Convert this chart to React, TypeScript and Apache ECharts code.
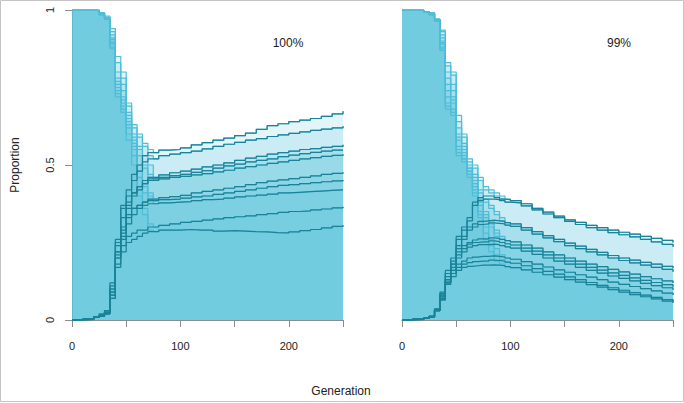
import React, { useEffect, useRef } from 'react';
import * as echarts from 'echarts';

// ---------- Panel 1 (100%) ----------
const GEN_EARLY_1 = [0, 10, 20, 25, 30, 35, 40, 45, 50, 55, 60, 65, 70];
const GEN_TAIL_1 = [75, 80, 90, 100, 110, 120, 130, 140, 150, 160, 170, 180, 190, 200, 210, 220, 230, 240, 250];

const DECLINE_1 = [
  [1, 1, 1, 0.99, 0.98, 0.94, 0.85, 0.8, 0.7, 0.63, 0.6, 0.57, 0.55],
  [1, 1, 1, 0.99, 0.975, 0.93, 0.83, 0.78, 0.69, 0.62, 0.59, 0.56, 0.53],
  [1, 1, 0.998, 0.985, 0.97, 0.92, 0.8, 0.76, 0.67, 0.6, 0.56, 0.53, 0.5],
  [1, 1, 1, 0.99, 0.975, 0.91, 0.78, 0.74, 0.66, 0.59, 0.55, 0.5, 0.47],
  [1, 1, 0.998, 0.985, 0.97, 0.905, 0.77, 0.72, 0.65, 0.58, 0.53, 0.49, 0.46],
  [1, 1, 1, 0.99, 0.97, 0.9, 0.76, 0.71, 0.64, 0.57, 0.5, 0.45, 0.41],
  [1, 1, 0.998, 0.985, 0.975, 0.895, 0.75, 0.7, 0.63, 0.56, 0.48, 0.43, 0.4],
  [1, 1, 1, 0.99, 0.97, 0.89, 0.74, 0.69, 0.62, 0.55, 0.46, 0.41, 0.39],
  [1, 1, 0.998, 0.985, 0.97, 0.88, 0.73, 0.68, 0.6, 0.53, 0.42, 0.36, 0.31],
  [1, 1, 1, 0.99, 0.975, 0.875, 0.72, 0.67, 0.58, 0.5, 0.4, 0.34, 0.29],
];

const RISE_1 = [
  [0, 0.003, 0.01, 0.015, 0.03, 0.12, 0.26, 0.37, 0.42, 0.47, 0.5, 0.53, 0.54],
  [0, 0.002, 0.008, 0.015, 0.025, 0.11, 0.24, 0.33, 0.4, 0.45, 0.48, 0.51, 0.52],
  [0, 0.003, 0.01, 0.02, 0.03, 0.1, 0.22, 0.3, 0.37, 0.41, 0.43, 0.45, 0.46],
  [0, 0.002, 0.008, 0.015, 0.025, 0.09, 0.21, 0.28, 0.36, 0.4, 0.42, 0.44, 0.455],
  [0, 0.003, 0.01, 0.015, 0.025, 0.1, 0.25, 0.36, 0.38, 0.41, 0.43, 0.44, 0.45],
  [0, 0.002, 0.008, 0.012, 0.02, 0.08, 0.2, 0.27, 0.33, 0.36, 0.37, 0.38, 0.39],
  [0, 0.003, 0.01, 0.015, 0.025, 0.09, 0.22, 0.29, 0.34, 0.36, 0.37, 0.38, 0.385],
  [0, 0.002, 0.008, 0.015, 0.02, 0.08, 0.2, 0.26, 0.31, 0.34, 0.36, 0.37, 0.375],
  [0, 0.003, 0.01, 0.015, 0.025, 0.07, 0.18, 0.24, 0.27, 0.28, 0.29, 0.29, 0.3],
  [0, 0.002, 0.008, 0.012, 0.02, 0.07, 0.17, 0.22, 0.25, 0.26, 0.27, 0.28, 0.285],
];

const TAIL_1 = [
  [0.54, 0.548, 0.55, 0.555, 0.565, 0.572, 0.58, 0.587, 0.595, 0.603, 0.615, 0.627, 0.633, 0.64, 0.645, 0.65, 0.657, 0.665, 0.673],
  [0.52, 0.53, 0.535, 0.54, 0.545, 0.552, 0.56, 0.567, 0.573, 0.58, 0.585, 0.592, 0.597, 0.602, 0.607, 0.612, 0.616, 0.62, 0.625],
  [0.46, 0.468, 0.475, 0.48, 0.487, 0.494, 0.5, 0.507, 0.515, 0.522, 0.528, 0.535, 0.54, 0.545, 0.55, 0.553, 0.557, 0.56, 0.565],
  [0.455, 0.46, 0.466, 0.47, 0.476, 0.482, 0.49, 0.497, 0.503, 0.51, 0.515, 0.52, 0.527, 0.532, 0.537, 0.541, 0.545, 0.548, 0.55],
  [0.45, 0.455, 0.46, 0.463, 0.468, 0.472, 0.478, 0.483, 0.49, 0.495, 0.5, 0.505, 0.51, 0.515, 0.52, 0.524, 0.528, 0.531, 0.535],
  [0.39, 0.395, 0.398, 0.402, 0.41, 0.415, 0.42, 0.425, 0.43, 0.437, 0.443, 0.448, 0.452, 0.456, 0.46, 0.465, 0.47, 0.473, 0.477],
  [0.385, 0.388, 0.39, 0.393, 0.397, 0.4, 0.405, 0.41, 0.415, 0.42, 0.425, 0.43, 0.434, 0.437, 0.44, 0.443, 0.446, 0.449, 0.452],
  [0.375, 0.378, 0.38, 0.382, 0.385, 0.388, 0.39, 0.393, 0.397, 0.4, 0.403, 0.406, 0.41, 0.412, 0.414, 0.416, 0.418, 0.42, 0.422],
  [0.3, 0.305, 0.31, 0.315, 0.318, 0.322, 0.326, 0.33, 0.333, 0.336, 0.34, 0.343, 0.347, 0.35, 0.352, 0.355, 0.358, 0.362, 0.365],
  [0.285, 0.29, 0.29, 0.292, 0.29, 0.29, 0.287, 0.288, 0.287, 0.285, 0.284, 0.282, 0.281, 0.284, 0.288, 0.292, 0.297, 0.302, 0.306],
];

// ---------- Panel 2 (99%) ----------
const GEN_EARLY_2 = [0, 10, 20, 25, 30, 35, 40, 45, 50, 55, 60, 65, 70, 75, 80, 85, 90, 95];
const GEN_TAIL_2 = [100, 110, 120, 130, 140, 150, 160, 170, 180, 190, 200, 210, 220, 230, 240, 250];

const DECLINE_2 = [
  [1, 1, 0.995, 0.99, 0.97, 0.935, 0.83, 0.8, 0.66, 0.6, 0.52, 0.5, 0.46, 0.43, 0.42, 0.41, 0.4, 0.39],
  [1, 1, 0.995, 0.985, 0.97, 0.93, 0.82, 0.79, 0.64, 0.59, 0.51, 0.49, 0.45, 0.42, 0.41, 0.4, 0.39, 0.38],
  [1, 1, 0.995, 0.985, 0.965, 0.92, 0.8, 0.76, 0.62, 0.57, 0.5, 0.47, 0.42, 0.39, 0.37, 0.35, 0.33, 0.314],
  [1, 1, 0.995, 0.99, 0.97, 0.91, 0.78, 0.74, 0.6, 0.56, 0.49, 0.46, 0.41, 0.38, 0.36, 0.34, 0.32, 0.306],
  [1, 1, 0.995, 0.985, 0.965, 0.9, 0.76, 0.72, 0.59, 0.55, 0.49, 0.45, 0.39, 0.35, 0.32, 0.29, 0.27, 0.256],
  [1, 1, 0.995, 0.99, 0.97, 0.895, 0.74, 0.71, 0.58, 0.54, 0.48, 0.44, 0.38, 0.34, 0.31, 0.28, 0.26, 0.246],
  [1, 1, 0.995, 0.985, 0.965, 0.89, 0.72, 0.7, 0.56, 0.53, 0.48, 0.43, 0.37, 0.33, 0.3, 0.27, 0.25, 0.236],
  [1, 1, 0.995, 0.99, 0.97, 0.88, 0.7, 0.68, 0.55, 0.52, 0.47, 0.42, 0.35, 0.3, 0.26, 0.23, 0.21, 0.2],
  [1, 1, 0.995, 0.985, 0.965, 0.875, 0.69, 0.67, 0.54, 0.52, 0.47, 0.41, 0.34, 0.28, 0.24, 0.21, 0.195, 0.187],
  [1, 1, 0.995, 0.99, 0.97, 0.87, 0.68, 0.66, 0.53, 0.51, 0.46, 0.4, 0.33, 0.26, 0.22, 0.19, 0.18, 0.172],
];

const RISE_2 = [
  [0, 0.003, 0.006, 0.012, 0.035, 0.09, 0.16, 0.2, 0.27, 0.3, 0.33, 0.38, 0.395, 0.4, 0.4, 0.395, 0.39, 0.388],
  [0, 0.002, 0.005, 0.01, 0.03, 0.085, 0.15, 0.19, 0.26, 0.29, 0.32, 0.37, 0.385, 0.39, 0.39, 0.388, 0.385, 0.38],
  [0, 0.003, 0.006, 0.012, 0.035, 0.08, 0.15, 0.18, 0.24, 0.27, 0.3, 0.31, 0.318, 0.32, 0.322, 0.32, 0.318, 0.314],
  [0, 0.002, 0.005, 0.01, 0.03, 0.08, 0.14, 0.18, 0.23, 0.26, 0.29, 0.3, 0.308, 0.31, 0.313, 0.312, 0.31, 0.306],
  [0, 0.003, 0.006, 0.012, 0.035, 0.075, 0.13, 0.17, 0.22, 0.24, 0.25, 0.258, 0.262, 0.262, 0.265, 0.263, 0.26, 0.256],
  [0, 0.002, 0.005, 0.01, 0.03, 0.075, 0.13, 0.16, 0.21, 0.23, 0.245, 0.25, 0.252, 0.252, 0.255, 0.253, 0.25, 0.246],
  [0, 0.003, 0.006, 0.012, 0.033, 0.07, 0.125, 0.16, 0.2, 0.22, 0.235, 0.24, 0.243, 0.243, 0.245, 0.243, 0.24, 0.236],
  [0, 0.002, 0.005, 0.01, 0.03, 0.07, 0.12, 0.15, 0.18, 0.19, 0.2, 0.203, 0.205, 0.205, 0.207, 0.205, 0.203, 0.2],
  [0, 0.003, 0.006, 0.012, 0.033, 0.065, 0.12, 0.15, 0.17, 0.18, 0.185, 0.188, 0.19, 0.19, 0.193, 0.192, 0.19, 0.187],
  [0, 0.002, 0.005, 0.01, 0.03, 0.065, 0.115, 0.14, 0.16, 0.17, 0.173, 0.175, 0.177, 0.177, 0.178, 0.177, 0.175, 0.172],
];

const TAIL_2 = [
  [0.385, 0.375, 0.36, 0.348, 0.335, 0.323, 0.315, 0.305, 0.298, 0.29, 0.283, 0.277, 0.27, 0.263, 0.257, 0.25],
  [0.378, 0.368, 0.355, 0.342, 0.33, 0.318, 0.308, 0.298, 0.29, 0.282, 0.275, 0.268, 0.26, 0.252, 0.244, 0.236],
  [0.31, 0.298, 0.285, 0.272, 0.26, 0.248, 0.238, 0.228, 0.218, 0.208, 0.2, 0.193, 0.186, 0.18, 0.173, 0.167],
  [0.302, 0.29, 0.277, 0.265, 0.253, 0.24, 0.23, 0.22, 0.21, 0.2, 0.192, 0.184, 0.177, 0.17, 0.163, 0.156],
  [0.252, 0.242, 0.232, 0.22, 0.21, 0.2, 0.19, 0.18, 0.172, 0.163, 0.155, 0.148, 0.14, 0.133, 0.126, 0.119],
  [0.242, 0.232, 0.222, 0.21, 0.2, 0.19, 0.18, 0.17, 0.161, 0.152, 0.144, 0.136, 0.128, 0.121, 0.114, 0.107],
  [0.232, 0.222, 0.212, 0.2, 0.19, 0.18, 0.17, 0.16, 0.151, 0.142, 0.134, 0.126, 0.118, 0.111, 0.104, 0.097],
  [0.196, 0.188, 0.18, 0.171, 0.162, 0.154, 0.146, 0.138, 0.13, 0.122, 0.115, 0.108, 0.101, 0.094, 0.087, 0.081],
  [0.183, 0.175, 0.166, 0.157, 0.148, 0.139, 0.13, 0.121, 0.112, 0.104, 0.096, 0.088, 0.08, 0.073, 0.066, 0.059],
  [0.169, 0.162, 0.154, 0.146, 0.138, 0.13, 0.122, 0.114, 0.106, 0.098, 0.09, 0.082, 0.075, 0.068, 0.061, 0.055],
];

const PANEL_LABELS = ['100%', '99%'];
const X_TICK_LABELS = [0, 100, 200];

const FONT = '"Liberation Sans", Arial, Helvetica, sans-serif';
const AXIS_GRAY = '#8c8c8c';
const FILL_COLOR = '#58c5db';
const DECLINE_LINE = '#4fbdd7';
const RISE_LINE = '#1b8298';

function build(genE: number[], genT: number[], early: number[], tail: number[]) {
  const out: number[][] = [];
  genE.forEach((g, i) => out.push([g, early[i]]));
  genT.forEach((g, i) => out.push([g, tail[i]]));
  return out;
}

function panelSeries(idx: number, genE: number[], genT: number[], dec: number[][], rise: number[][], tail: number[][]) {
  const s: any[] = [];
  dec.forEach((d, k) => {
    s.push({
      type: 'line', xAxisIndex: idx, yAxisIndex: idx, step: 'end', showSymbol: false, silent: true,
      data: build(genE, genT, d, tail[k]),
      lineStyle: { color: DECLINE_LINE, width: 1.2 },
      areaStyle: { color: FILL_COLOR, opacity: 0.17, origin: 'start' },
      z: 2,
    });
  });
  rise.forEach((r, k) => {
    s.push({
      type: 'line', xAxisIndex: idx, yAxisIndex: idx, step: 'end', showSymbol: false, silent: true,
      data: build(genE, genT, r, tail[k]),
      lineStyle: { color: RISE_LINE, width: 1.2 },
      z: 3,
    });
  });
  return s;
}

export default function App() {
  const ref = useRef<HTMLDivElement>(null);
  useEffect(() => {
    document.body.style.margin = '0';
    const chart = echarts.init(ref.current!, null, { renderer: 'svg' });
    const xAxisBase = (gridIndex: number) => ({
      gridIndex, type: 'value', min: 0, max: 250, interval: 50, offset: 5,
      axisLine: { show: true, lineStyle: { color: AXIS_GRAY, width: 1 } },
      axisTick: { show: true, length: 7, lineStyle: { color: AXIS_GRAY, width: 1 } },
      axisLabel: {
        margin: 15, color: '#222', fontSize: 11, fontFamily: FONT,
        formatter: (v: number) => (X_TICK_LABELS.includes(v) ? String(v) : ''),
      },
      splitLine: { show: false },
    });
    chart.setOption({
      animation: false,
      backgroundColor: '#ffffff',
      grid: [
        { left: 72, top: 10, width: 271, height: 310 },
        { left: 402, top: 10, width: 271, height: 310 },
      ],
      xAxis: [xAxisBase(0), xAxisBase(1)],
      yAxis: [
        {
          gridIndex: 0, type: 'value', min: 0, max: 1, interval: 0.5, offset: 4,
          axisLine: { show: true, lineStyle: { color: AXIS_GRAY, width: 1 } },
          axisTick: { show: true, length: 7, lineStyle: { color: AXIS_GRAY, width: 1 } },
          axisLabel: { rotate: 90, margin: 13, color: '#222', fontSize: 11, fontFamily: FONT },
          splitLine: { show: false },
          name: 'Proportion', nameLocation: 'middle', nameGap: 47,
          nameTextStyle: { color: '#222', fontSize: 12, fontFamily: FONT },
        },
        { gridIndex: 1, type: 'value', min: 0, max: 1, show: false, splitLine: { show: false } },
      ],
      graphic: [
        { type: 'rect', shape: { x: 0.5, y: 0.5, width: 683, height: 401 }, style: { fill: 'none', stroke: '#c4c4c4', lineWidth: 1 }, silent: true },
        { type: 'text', x: 288, y: 43, style: { text: PANEL_LABELS[0], font: `12px ${FONT}`, fill: '#222', textAlign: 'center', textVerticalAlign: 'middle' } },
        { type: 'text', x: 619, y: 43, style: { text: PANEL_LABELS[1], font: `12px ${FONT}`, fill: '#222', textAlign: 'center', textVerticalAlign: 'middle' } },
        { type: 'text', x: 341, y: 391, style: { text: 'Generation', font: `12px ${FONT}`, fill: '#222', textAlign: 'center', textVerticalAlign: 'middle' } },
      ],
      series: [
        ...panelSeries(0, GEN_EARLY_1, GEN_TAIL_1, DECLINE_1, RISE_1, TAIL_1),
        ...panelSeries(1, GEN_EARLY_2, GEN_TAIL_2, DECLINE_2, RISE_2, TAIL_2),
      ],
    });
    return () => chart.dispose();
  }, []);
  return <div ref={ref} style={{ width: 684, height: 403 }} />;
}
